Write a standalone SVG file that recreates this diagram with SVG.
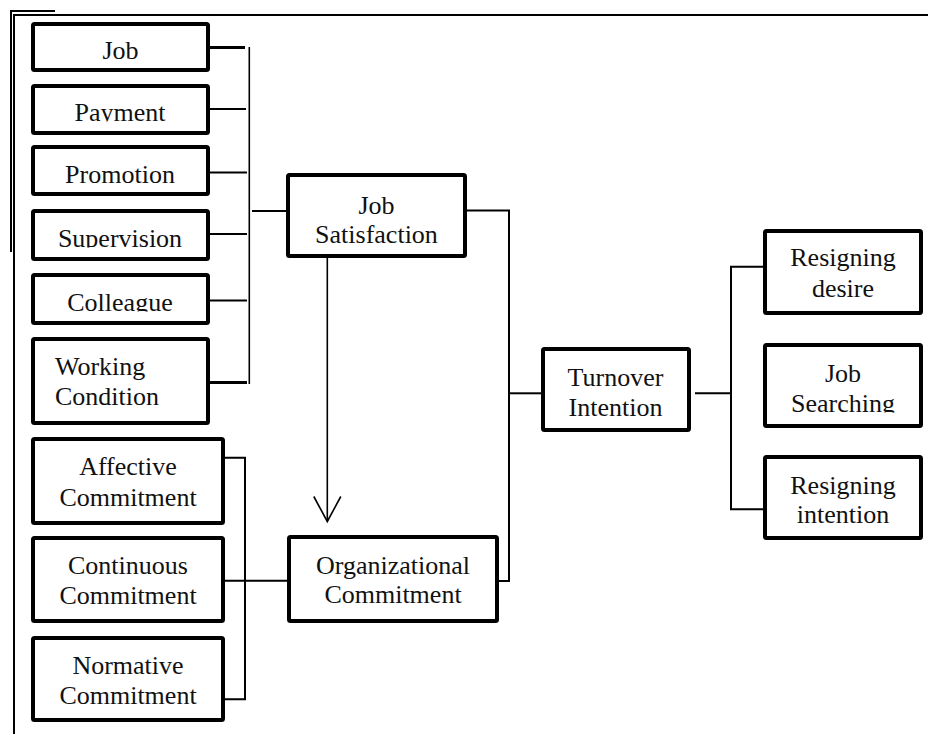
<svg xmlns="http://www.w3.org/2000/svg" width="928" height="734" viewBox="0 0 928 734">
<style>
.box{fill:#fff;stroke:#000;stroke-width:4;rx:1.5}
.t{font-family:"Liberation Serif","Times New Roman",serif;font-size:26px;fill:#111;text-anchor:middle}
.tl{font-family:"Liberation Serif","Times New Roman",serif;font-size:26px;fill:#111}
.c{fill:none;stroke:#000;stroke-width:2}
.c3{fill:none;stroke:#000;stroke-width:3}
.thin{fill:none;stroke:#000;stroke-width:1.6}
.frame{fill:none;stroke:#000;stroke-width:2}
</style>
<defs>
<marker id="openArrow" markerUnits="userSpaceOnUse" markerWidth="40" markerHeight="40" viewBox="-30 -20 40 40" refX="0" refY="0" orient="auto">
<path d="M-25,-13.5 L0,0 L-25,13.5" fill="none" stroke="#000" stroke-width="1.6"/>
</marker>
<clipPath id="clipPay"><rect x="35" y="88" width="171" height="33.5"/></clipPath>
<clipPath id="clipProm"><rect x="35" y="149" width="171" height="34.5"/></clipPath>
<clipPath id="clipSup"><rect x="35" y="213" width="171" height="34.5"/></clipPath>
<clipPath id="clipCol"><rect x="35" y="277" width="171" height="34.5"/></clipPath>
<clipPath id="clipSearch"><rect x="767" y="347" width="152" height="65.5"/></clipPath>
</defs>
<rect x="0" y="0" width="928" height="734" fill="#fff"/>

<g id="frame">
<polyline class="frame" points="11,252 11,11 55,11"/>
<polyline class="frame" points="14,734 14,15 928,15"/>
</g>

<g id="connectors">
<line class="c3" x1="210" y1="47.5" x2="245" y2="47.5"/>
<line class="c" x1="210" y1="109" x2="246" y2="109"/>
<line class="c" x1="210" y1="172.5" x2="247" y2="172.5"/>
<line class="c" x1="210" y1="234" x2="247" y2="234"/>
<line class="c" x1="210" y1="300.5" x2="247" y2="300.5"/>
<line class="c3" x1="210" y1="382.5" x2="247" y2="382.5"/>
<line class="thin" x1="249.3" y1="47" x2="249.3" y2="384"/>
<line class="c" x1="252" y1="211" x2="287" y2="211"/>
<polyline class="c" points="466,210.5 509,210.5 509,581 499,581"/>
<line class="c" x1="509" y1="393.3" x2="541" y2="393.3"/>
<line class="thin" x1="327.3" y1="258" x2="327.3" y2="521.5" marker-end="url(#openArrow)"/>
<polyline class="c" points="225,457.7 245,457.7 245,699.3 225,699.3"/>
<line class="c" x1="225" y1="580.7" x2="287" y2="580.7"/>
<line class="c" x1="695" y1="393.3" x2="730" y2="393.3"/>
<polyline class="c" points="764,266.7 731,266.7 731,509.3 764,509.3"/>
</g>

<g id="job">
<rect class="box" x="33" y="24" width="175" height="46"/>
<text class="t" x="120.5" y="58.5">Job</text>
</g>
<g id="payment">
<rect class="box" x="33" y="86" width="175" height="47"/>
<text class="t" x="120" y="121" clip-path="url(#clipPay)">Payment</text>
</g>
<g id="promotion">
<rect class="box" x="33" y="147" width="175" height="47"/>
<text class="t" x="120" y="183" clip-path="url(#clipProm)">Promotion</text>
</g>
<g id="supervision">
<rect class="box" x="33" y="211" width="175" height="48"/>
<text class="t" x="120" y="247" clip-path="url(#clipSup)">Supervision</text>
</g>
<g id="colleague">
<rect class="box" x="33" y="275" width="175" height="48"/>
<text class="t" x="120" y="311" clip-path="url(#clipCol)">Colleague</text>
</g>
<g id="working-condition">
<rect class="box" x="33" y="339" width="175" height="84"/>
<text class="tl" x="55" y="375">Working</text>
<text class="tl" x="55" y="405">Condition</text>
</g>

<g id="job-satisfaction">
<rect class="box" x="288" y="175" width="177" height="81"/>
<text class="t" x="376.5" y="214">Job</text>
<text class="t" x="376.5" y="243">Satisfaction</text>
</g>

<g id="organizational-commitment">
<rect class="box" x="289" y="537" width="208" height="84"/>
<text class="t" x="393" y="574">Organizational</text>
<text class="t" x="393" y="603">Commitment</text>
</g>

<g id="affective-commitment">
<rect class="box" x="33" y="439" width="190" height="84"/>
<text class="t" x="128" y="475">Affective</text>
<text class="t" x="128" y="506">Commitment</text>
</g>
<g id="continuous-commitment">
<rect class="box" x="33" y="538" width="190" height="83"/>
<text class="t" x="128" y="574">Continuous</text>
<text class="t" x="128" y="603.5">Commitment</text>
</g>
<g id="normative-commitment">
<rect class="box" x="33" y="638" width="190" height="82"/>
<text class="t" x="128" y="673.5">Normative</text>
<text class="t" x="128" y="703.5">Commitment</text>
</g>

<g id="turnover-intention">
<rect class="box" x="543" y="349" width="146" height="81"/>
<text class="t" x="615.5" y="386">Turnover</text>
<text class="t" x="615.5" y="416">Intention</text>
</g>

<g id="resigning-desire">
<rect class="box" x="765" y="231" width="156" height="82"/>
<text class="t" x="843" y="266">Resigning</text>
<text class="t" x="843" y="297">desire</text>
</g>
<g id="job-searching">
<rect class="box" x="765" y="345" width="156" height="81"/>
<text class="t" x="843" y="382">Job</text>
<text class="t" x="843" y="412" clip-path="url(#clipSearch)">Searching</text>
</g>
<g id="resigning-intention">
<rect class="box" x="765" y="457" width="156" height="81"/>
<text class="t" x="843" y="493.5">Resigning</text>
<text class="t" x="843" y="523">intention</text>
</g>
</svg>
